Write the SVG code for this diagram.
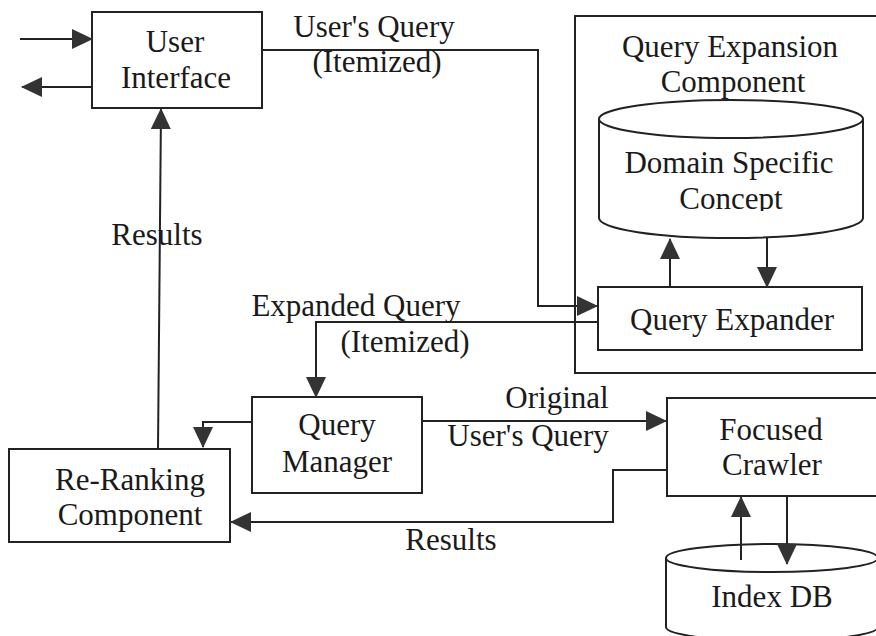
<svg xmlns="http://www.w3.org/2000/svg" width="876" height="636" viewBox="0 0 876 636">
<style>
.box{fill:#fff;stroke:#222;stroke-width:2}
.ln{fill:none;stroke:#222;stroke-width:2}
.t{font-family:"Liberation Serif","Times New Roman",serif;font-size:31px;fill:#1a1a1a;text-anchor:middle}
</style>
<defs>
<marker id="ah" markerUnits="userSpaceOnUse" markerWidth="21" markerHeight="20" viewBox="0 0 21 20" refX="20" refY="10" orient="auto">
<path d="M0,0 L21,10 L0,20 z" fill="#333"/>
</marker>
<clipPath id="clipC"><rect x="590" y="180" width="280" height="31"/></clipPath>
</defs>
<rect width="876" height="636" fill="#fff"/>

<g id="qe-component">
<rect class="box" x="575" y="16" width="310" height="357"/>
<text class="t" x="730" y="57">Query Expansion</text>
<text class="t" x="733" y="92">Component</text>
</g>

<g id="domain-concept">
<path class="box" d="M599,119 L599,218 A132,20 0 0 0 863,218 L863,119"/>
<ellipse class="box" cx="731" cy="119" rx="132" ry="19"/>
<text class="t" x="729" y="173">Domain Specific</text>
<text class="t" x="731" y="209" clip-path="url(#clipC)">Concept</text>
</g>

<g id="user-interface">
<rect class="box" x="92" y="12" width="170" height="96"/>
<text class="t" x="175" y="52">User</text>
<text class="t" x="176" y="88">Interface</text>
</g>

<g id="query-expander">
<rect class="box" x="598" y="287" width="264" height="63"/>
<text class="t" x="732" y="330">Query Expander</text>
</g>

<g id="query-manager">
<rect class="box" x="252" y="397" width="170" height="96"/>
<text class="t" x="337" y="435">Query</text>
<text class="t" x="337" y="472">Manager</text>
</g>

<g id="re-ranking">
<rect class="box" x="9" y="449" width="221" height="93"/>
<text class="t" x="130" y="490">Re-Ranking</text>
<text class="t" x="130" y="525">Component</text>
</g>

<g id="focused-crawler">
<rect class="box" x="667" y="398" width="215" height="98"/>
<text class="t" x="771" y="440">Focused</text>
<text class="t" x="772" y="475">Crawler</text>
</g>

<g id="index-db">
<path class="box" d="M666,558 L666,627 A106,14 0 0 0 878,627 L878,558"/>
<ellipse class="box" cx="772" cy="558" rx="106" ry="14"/>
<text class="t" x="772" y="607">Index DB</text>
</g>

<g id="connectors">
<path class="ln" d="M20,39 L92,39" marker-end="url(#ah)"/>
<path class="ln" d="M92,87 L22,87" marker-end="url(#ah)"/>
<path class="ln" d="M262,50 L538,50 L538,306 L597,306" marker-end="url(#ah)"/>
<path class="ln" d="M598,322 L316,322 L316,397" marker-end="url(#ah)"/>
<path class="ln" d="M670,287 L670,239" marker-end="url(#ah)"/>
<path class="ln" d="M767,238 L767,287" marker-end="url(#ah)"/>
<path class="ln" d="M252,422 L203,422 L203,447" marker-end="url(#ah)"/>
<path class="ln" d="M422,421 L666,421" marker-end="url(#ah)"/>
<path class="ln" d="M667,470 L613,470 L613,522 L231,522" marker-end="url(#ah)"/>
<path class="ln" d="M158,449 L161,109" marker-end="url(#ah)"/>
<path class="ln" d="M741,560 L741,497" marker-end="url(#ah)"/>
<path class="ln" d="M787,496 L787,564" marker-end="url(#ah)"/>
</g>

<g id="labels">
<text class="t" x="374" y="37">User's Query</text>
<text class="t" x="377" y="72">(Itemized)</text>
<text class="t" x="356" y="316">Expanded Query</text>
<text class="t" x="405" y="352">(Itemized)</text>
<text class="t" x="557" y="408">Original</text>
<text class="t" x="528" y="446">User's Query</text>
<text class="t" x="157" y="245">Results</text>
<text class="t" x="451" y="550">Results</text>
</g>
</svg>
